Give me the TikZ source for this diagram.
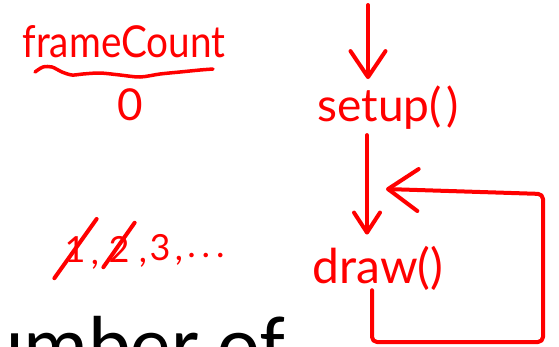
\documentclass[tikz,border=0pt]{standalone}
\usepackage{fontspec}
\setmainfont{Lato}
\newfontfamily\bodyfont{Carlito}
\usetikzlibrary{arrows.meta}
\definecolor{ink}{RGB}{255,0,0}
\begin{document}
\begin{tikzpicture}[x=1pt,y=-1pt,
  hand/.style={text=ink, inner sep=0pt, font=\fontsize{#1}{#1}\selectfont},
  stroke/.style={draw=ink, line width=4pt, line cap=round, line join=round},
  barbA/.style={-{Straight Barb[length=26pt,width=35pt,round]}},
  barbB/.style={-{Straight Barb[length=20pt,width=26pt,round]}},
  barbC/.style={-{Straight Barb[length=30pt,width=42pt,round]}}
]
\useasboundingbox (0,0) rectangle (559,346);
\clip (0,0) rectangle (559,346);

% labels
\node[hand=44, anchor=base] (fc) at (124,57) {\scalebox{0.88}[1]{frameCount}};
\node[hand=44, anchor=base] (zero) at (130,120) {0};
\node[hand=46, anchor=base] (setup) at (388,121) {setup(\hspace{4pt})};
\node[hand=48, anchor=base] (drawf) at (378,283) {draw()};

% sequence 1,2,3,...
\node[hand=36, anchor=base] (n1) at (75,262) {1};
\node[hand=36, anchor=base] (c1) at (95,264) {,};
\node[hand=36, anchor=base] (n2) at (119,262) {2};
\node[hand=36, anchor=base] (c2) at (143,262) {,};
\node[hand=36, anchor=base] (n3) at (160,260) {3};
\node[hand=36, anchor=base] (c3) at (179,260) {,};
\node[hand=36, anchor=base] (dots) at (206,257) {.\hspace{6pt}.\hspace{6pt}.};

% strike-throughs
\draw[stroke] ([shift={(-10,16)}]n1.south west) -- ([shift={(11,-17)}]n1.north east);
\draw[stroke] ([shift={(-5,5)}]n2.south west) -- ([shift={(5,-13)}]n2.north east);

% wavy underline
\draw[stroke, line width=3.5pt] plot[smooth] coordinates {(35,72) (43,67) (52,67) (62,72) (72,75) (83,74) (100,73) (120,75) (140,77) (160,74) (180,72) (200,70) (213,69)};

% bottom text
\node[anchor=base west, inner sep=0pt, font=\bodyfont\fontsize{81}{81}\selectfont] (cap) at (-19,372) {umber of};

% arrows
\coordinate (start) at (368,5);
\draw[stroke, barbA] (start) -- ([shift={(-20,-6)}]setup.north);
\draw[stroke, barbB] ([shift={(-21,6)}]setup.south) -- ([shift={(-11,-11)}]drawf.north);
\coordinate (loopend) at (386,189);
\draw[stroke, barbC, rounded corners=5pt] ([shift={(-6,0)}]drawf.south) -- (372,342) -- (543,342) -- (543,194) -- (loopend);
\end{tikzpicture}
\end{document}
